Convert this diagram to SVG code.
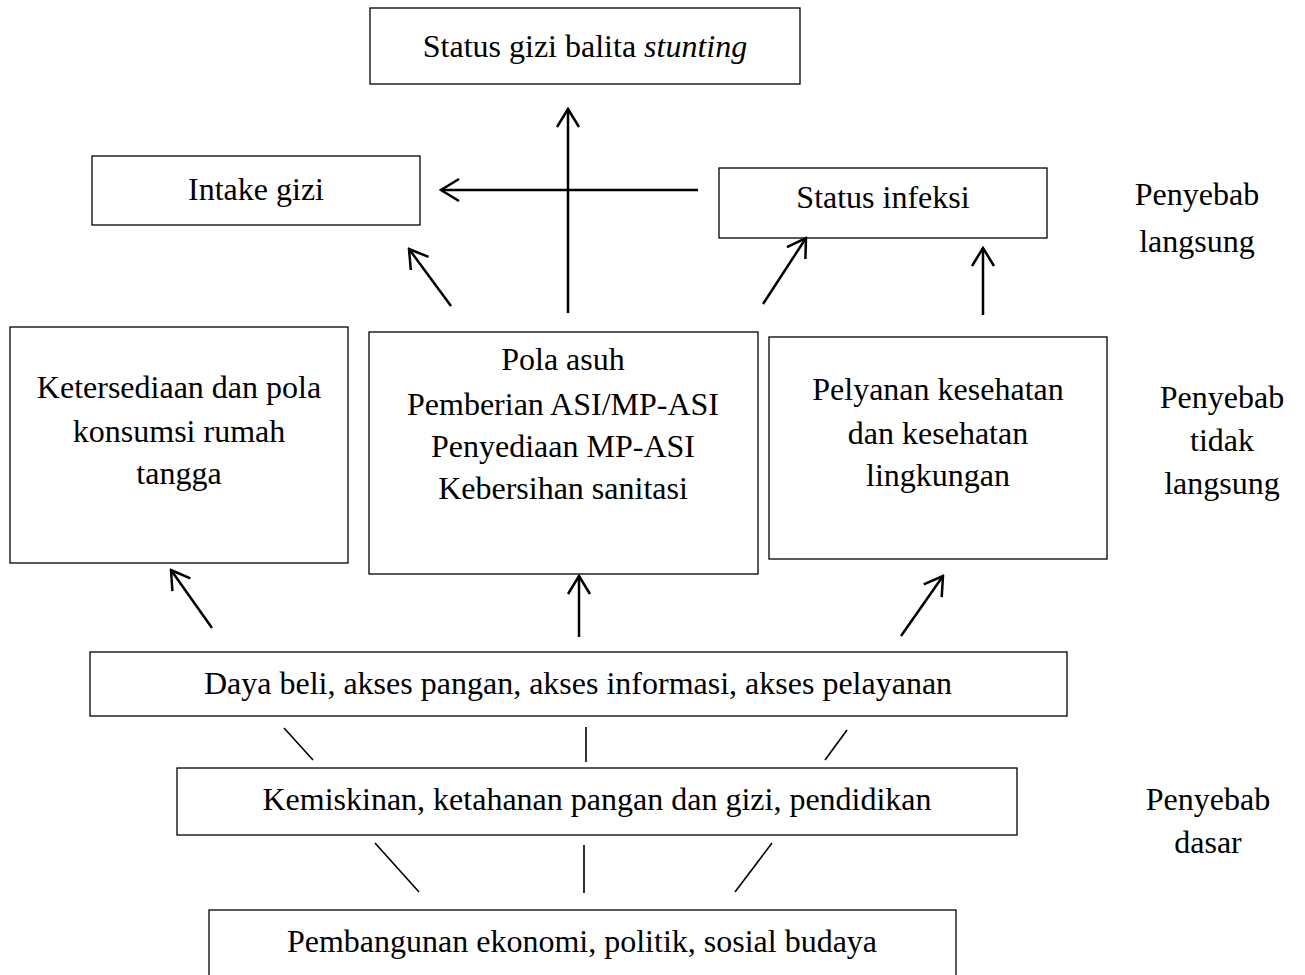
<svg xmlns="http://www.w3.org/2000/svg" width="1305" height="975" viewBox="0 0 1305 975">
<style>
  .box { fill: #fff; stroke: #000; stroke-width: 1.3; }
  text { font-family: 'Liberation Serif', 'Times New Roman', Tinos, 'DejaVu Serif', serif; font-size: 32px; fill: #000; text-anchor: middle; }
  .arr { stroke: #000; stroke-width: 2.5; fill: none; marker-end: url(#ah); }
  .ln { stroke: #000; stroke-width: 1.6; fill: none; }
</style>
<defs>
  <marker id="ah" markerUnits="userSpaceOnUse" markerWidth="22" markerHeight="26" refX="20" refY="13" orient="auto">
    <path d="M2,2 L20,13 L2,24" fill="none" stroke="#000" stroke-width="2.5"/>
  </marker>
</defs>
<rect width="1305" height="975" fill="#fff"/>

<g id="status-gizi">
  <rect class="box" x="370" y="8" width="430" height="76"/>
  <text x="585" y="57">Status gizi balita <tspan font-style="italic">stunting</tspan></text>
</g>
<g id="intake-gizi">
  <rect class="box" x="92" y="156" width="328" height="69"/>
  <text x="256" y="200">Intake gizi</text>
</g>
<g id="status-infeksi">
  <rect class="box" x="719" y="168" width="328" height="70"/>
  <text x="883" y="208">Status infeksi</text>
</g>
<g id="label-langsung">
  <text x="1197" y="205">Penyebab</text>
  <text x="1197" y="252">langsung</text>
</g>
<g id="ketersediaan">
  <rect class="box" x="10" y="327" width="338" height="236"/>
  <text x="179" y="398">Ketersediaan dan pola</text>
  <text x="179" y="442">konsumsi rumah</text>
  <text x="179" y="484">tangga</text>
</g>
<g id="pola-asuh">
  <rect class="box" x="369" y="332" width="389" height="242"/>
  <text x="563" y="370">Pola asuh</text>
  <text x="563" y="415">Pemberian ASI/MP-ASI</text>
  <text x="563" y="457">Penyediaan MP-ASI</text>
  <text x="563" y="499">Kebersihan sanitasi</text>
</g>
<g id="pelayanan">
  <rect class="box" x="769" y="337" width="338" height="222"/>
  <text x="938" y="400">Pelyanan kesehatan</text>
  <text x="938" y="444">dan kesehatan</text>
  <text x="938" y="486">lingkungan</text>
</g>
<g id="label-tidak-langsung">
  <text x="1222" y="408">Penyebab</text>
  <text x="1222" y="451">tidak</text>
  <text x="1222" y="494">langsung</text>
</g>
<g id="daya-beli">
  <rect class="box" x="90" y="652" width="977" height="64"/>
  <text x="578" y="694">Daya beli, akses pangan, akses informasi, akses pelayanan</text>
</g>
<g id="kemiskinan">
  <rect class="box" x="177" y="768" width="840" height="67"/>
  <text x="597" y="810">Kemiskinan, ketahanan pangan dan gizi, pendidikan</text>
</g>
<g id="pembangunan">
  <rect class="box" x="209" y="910" width="747" height="80"/>
  <text x="582" y="952">Pembangunan ekonomi, politik, sosial budaya</text>
</g>
<g id="label-dasar">
  <text x="1208" y="810">Penyebab</text>
  <text x="1208" y="853">dasar</text>
</g>

<g id="connectors">
  <line class="arr" x1="568" y1="313" x2="568" y2="109"/>
  <line class="arr" x1="698" y1="190" x2="441" y2="190"/>
  <line class="arr" x1="451" y1="306" x2="409" y2="249"/>
  <line class="arr" x1="763" y1="304" x2="806" y2="238"/>
  <line class="arr" x1="983" y1="315" x2="983" y2="248"/>
  <line class="arr" x1="212" y1="628" x2="171" y2="570"/>
  <line class="arr" x1="579" y1="637" x2="579" y2="576"/>
  <line class="arr" x1="901" y1="636" x2="943" y2="576"/>
  <line class="ln" x1="284" y1="728" x2="313" y2="760"/>
  <line class="ln" x1="586" y1="727" x2="586" y2="762"/>
  <line class="ln" x1="847" y1="730" x2="825" y2="760"/>
  <line class="ln" x1="375" y1="843" x2="419" y2="892"/>
  <line class="ln" x1="584" y1="845" x2="584" y2="893"/>
  <line class="ln" x1="772" y1="843" x2="735" y2="892"/>
</g>
</svg>
